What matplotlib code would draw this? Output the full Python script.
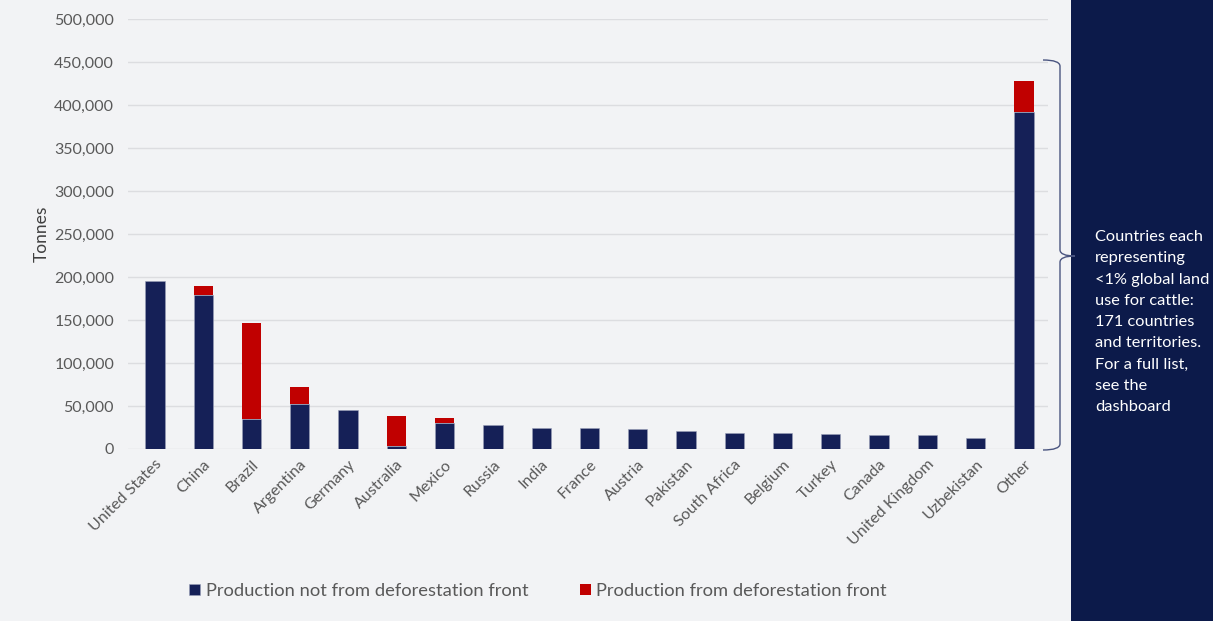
import numpy as np
import matplotlib.pyplot as plt
from matplotlib.path import Path
from matplotlib.patches import PathPatch, Rectangle
from matplotlib.ticker import FuncFormatter

countries = ['United States', 'China', 'Brazil', 'Argentina', 'Germany', 'Australia',
             'Mexico', 'Russia', 'India', 'France', 'Austria', 'Pakistan', 'South Africa',
             'Belgium', 'Turkey', 'Canada', 'United Kingdom', 'Uzbekistan', 'Other']
not_defor = [195000, 179000, 34500, 52300, 45400, 3500, 30600, 27500, 24800, 24000,
             23600, 21300, 18200, 18200, 17100, 16300, 15900, 13200, 392300]
defor = [0, 10500, 111700, 20200, 0, 34900, 5100, 0, 0, 0,
         0, 0, 0, 0, 0, 0, 0, 0, 36000]

plt.rcParams['font.family'] = ['Lato', 'DejaVu Sans']

bg = '#f2f3f5'
navy = '#152057'
red = '#c00000'
panel = '#0c1a4a'

fig = plt.figure(figsize=(12.13, 6.21), dpi=100, facecolor=bg)
ax = fig.add_axes([128 / 1213, 1 - 449 / 621, 920 / 1213, 430 / 621])
ax.set_facecolor(bg)

x = np.arange(len(countries))
ax.bar(x, not_defor, width=0.4, color=navy, edgecolor='#9aa0b8', linewidth=0.4,
       label='Production not from deforestation front', zorder=3)
ax.bar(x, defor, width=0.4, bottom=not_defor, color=red, linewidth=0,
       label='Production from deforestation front', zorder=3)

ax.set_xlim(-0.56, 18.5)
ax.set_ylim(0, 500000)
ax.set_yticks(np.arange(0, 500001, 50000))
ax.yaxis.set_major_formatter(FuncFormatter(lambda v, p: f'{int(v):,}'))
ax.grid(axis='y', color='#dcdde0', linewidth=1, zorder=0)
for s in ax.spines.values():
    s.set_visible(False)
ax.tick_params(length=0, labelsize=11.5, colors='#595959', pad=10)
ax.set_xticks(x)
ax.set_xticklabels(countries, rotation=45, ha='right', rotation_mode='anchor')
ax.tick_params(axis='x', pad=6)
ax.set_ylabel('Tonnes', fontsize=12.5, color='#404040', labelpad=3)

# right panel
fig.patches.append(Rectangle((1071 / 1213, 0), 1 - 1071 / 1213, 1, transform=fig.transFigure,
                             facecolor=panel, edgecolor='none', zorder=0))
fig.text(1095 / 1213, 1 - 230 / 621,
         'Countries each\nrepresenting\n<1% global land\nuse for cattle:\n171 countries\nand territories.\nFor a full list,\nsee the\ndashboard',
         color='white', fontsize=11.8, va='top', ha='left', linespacing=1.66)

# brace
top, bot, mid = 1 - 60 / 621, 1 - 450 / 621, 1 - 256 / 621
x0, x1, x2 = 1043 / 1213, 1060 / 1213, 1075 / 1213
verts = [(x0, top), (x1, top), (x1, top - 0.01), (x1, mid + 0.01),
         (x1, mid), (x2, mid), (x1, mid), (x1, mid - 0.01),
         (x1, bot + 0.01), (x1, bot), (x0, bot)]
codes = [Path.MOVETO, Path.CURVE3, Path.CURVE3, Path.LINETO,
         Path.CURVE3, Path.CURVE3, Path.CURVE3, Path.CURVE3,
         Path.LINETO, Path.CURVE3, Path.CURVE3]
fig.patches.append(PathPatch(Path(verts, codes), transform=fig.transFigure,
                             facecolor='none', edgecolor='#4a5580', linewidth=1))

leg = fig.legend(loc='center', bbox_to_anchor=(538 / 1213, 1 - 591 / 621), ncol=2,
                 frameon=False, fontsize=13.2, handlelength=0.6, handleheight=0.6,
                 handletextpad=0.3, columnspacing=2.8)
for t in leg.get_texts():
    t.set_color('#595959')

fig.savefig('out.png', dpi=100, facecolor=bg)
